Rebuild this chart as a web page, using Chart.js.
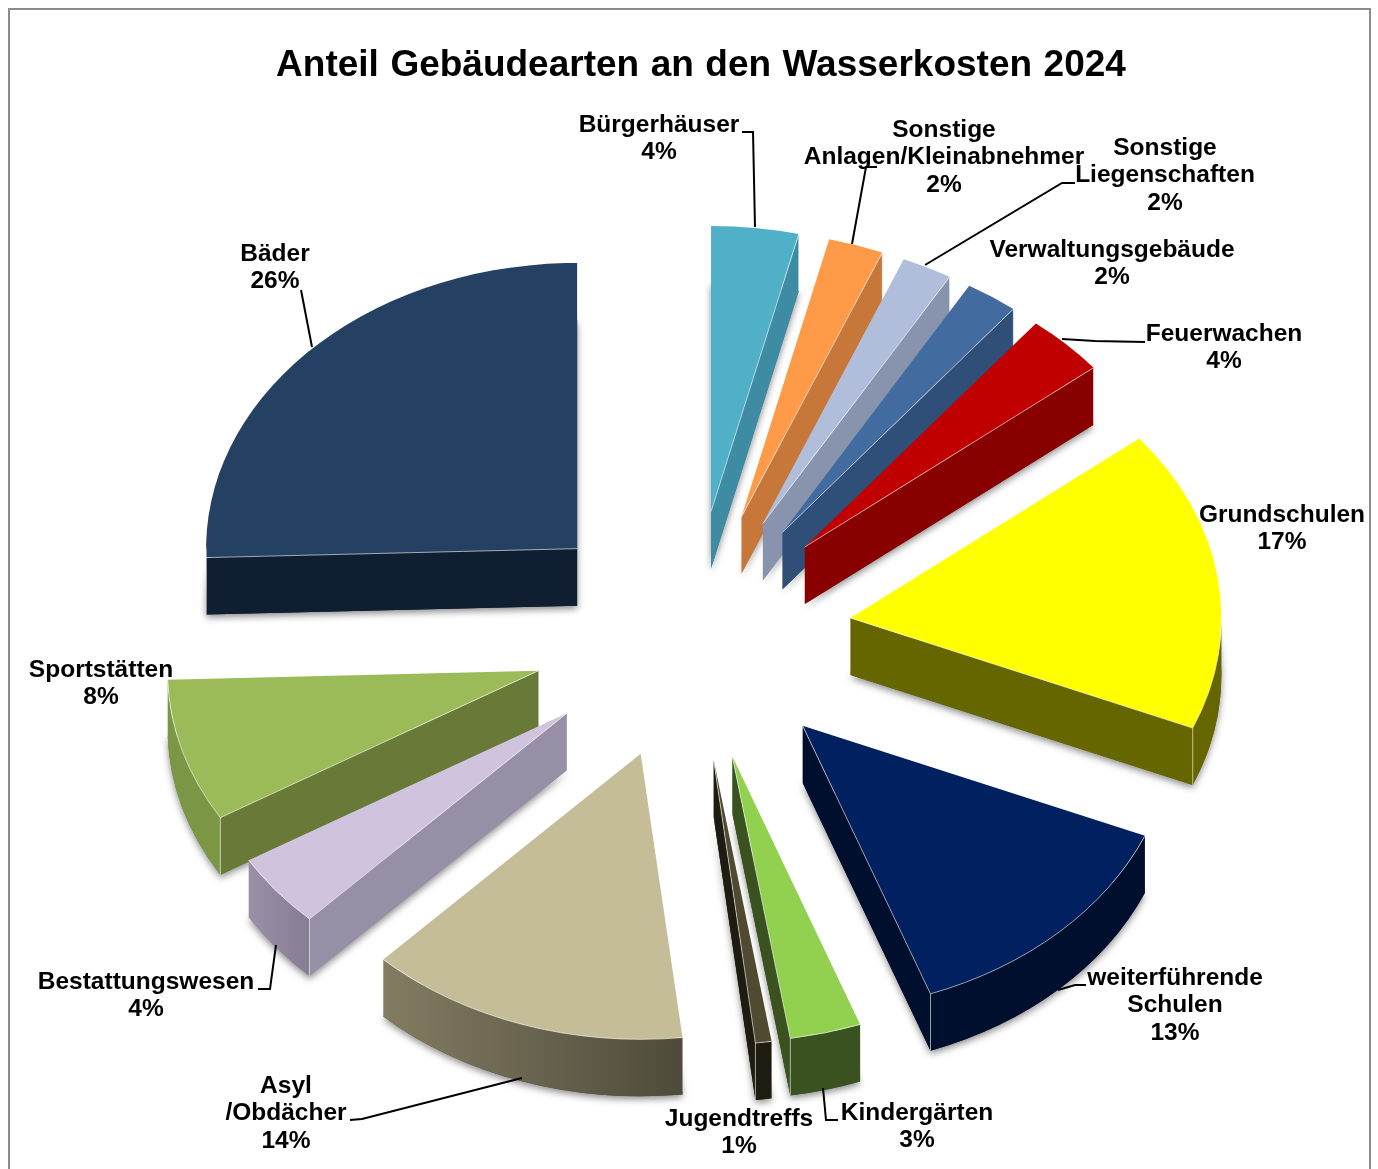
<!DOCTYPE html>
<html lang="de">
<head>
<meta charset="utf-8">
<title>Anteil Gebäudearten an den Wasserkosten 2024</title>
<script src="https://cdn.jsdelivr.net/npm/chart.js@4"></script>
<style>
html,body{margin:0;padding:0;background:#fff;overflow:hidden;width:1378px;height:1169px}
#frame{position:absolute;left:8px;top:8px;width:1363px;height:1300px;border:2.5px solid #8c8c8c;box-sizing:border-box;pointer-events:none}
canvas{position:absolute;left:0;top:0}
</style>
</head>
<body>
<canvas id="c" width="1378" height="1169"></canvas>
<div id="frame"></div>
<script>
const chartTitle = 'Anteil Gebäudearten an den Wasserkosten 2024';
const categories = ['Bürgerhäuser','Sonstige Anlagen/Kleinabnehmer','Sonstige Liegenschaften','Verwaltungsgebäude','Feuerwachen','Grundschulen','weiterführende Schulen','Kindergärten','Jugendtreffs','Asyl /Obdächer','Bestattungswesen','Sportstätten','Bäder'];
// shares; they round to the printed percentages
const shares = [3.8,2.4,2.2,2.3,3.5,17.1,13.1,3.1,0.7,14.0,4.2,8.1,25.5];

const topColors  = ['#4FB0C8','#FF9A48','#B0BEDC','#426BA0','#C00000','#FFFF00','#002060','#92D050','#4F4A30','#C4BD97','#CFC3DD','#9BBB59','#244062'];
const faceColors = ['#3E8CA4','#C8773A','#8894AE','#2F4F78','#880000','#666600','#000F2E','#3A5220','#1E1B10','#4F4B3A','#978FA6','#697A38','#0F1E30'];
const rimLeft    = ['#3E8CA4','#C8773A','#8894AE','#2F4F78','#880000','#666600','#000F2E','#3A5220','#1E1B10','#827C62','#9A91A8','#7B9746','#0F1E30'];
const rimRight   = ['#3E8CA4','#C8773A','#8894AE','#2F4F78','#880000','#666600','#000F2E','#3A5220','#1E1B10','#4F4B3A','#867D92','#7B9746','#0F1E30'];

// label name lines; the percentage line comes from shares
const labelNames = [['Bürgerhäuser'],['Sonstige','Anlagen/Kleinabnehmer'],['Sonstige','Liegenschaften'],['Verwaltungsgebäude'],['Feuerwachen'],['Grundschulen'],['weiterführende','Schulen'],['Kindergärten'],['Jugendtreffs'],['Asyl','/Obdächer'],['Bestattungswesen'],['Sportstätten'],['Bäder']];
const labelX = [659,944,1165,1112,1224,1282,1175,917,739,286,146,101,275];
const labelY = [125,130,148,250,334,515,978,1113,1119,1086,982,670,254];
const leaderLines = [
  [[742,132],[753,132],[755,227]],
  [[877,167],[866,167],[852,244]],
  [[1075,183],[1062,183],[925,265]],
  null,
  [[1145,342],[1095,341],[1062,339]],
  null,
  [[1086,985],[1075,985],[1058,990]],
  [[838,1120],[826,1120],[823,1088]],
  null,
  [[350,1120],[362,1119],[522,1078]],
  [[258,989],[270,989],[276,945]],
  null,
  [[301,290],[312,347]]
];

const EXPLODE = 160, DEPTH = 57, TILT = 0.78, RIM_TILT = 0.77, SHIFT_X = -9, LINE = 27.5;
const TWO_PI = Math.PI * 2;

function drawSlice(ctx, el, i) {
  const a = el.startAngle, b = el.endAngle, r = el.outerRadius;
  const mid = (a + b) / 2;
  const x = el.x + SHIFT_X + Math.cos(mid) * EXPLODE;
  const y = el.y + Math.sin(mid) * EXPLODE * TILT;
  const px = t => x + Math.cos(t) * r;
  const py = t => y + Math.sin(t) * r * RIM_TILT;
  const wedge = (dy) => {
    ctx.beginPath();
    ctx.moveTo(x, y + dy);
    ctx.ellipse(x, y + dy, r, r * RIM_TILT, 0, a, b);
    ctx.closePath();
  };
  const face = (t, color) => {
    ctx.fillStyle = color;
    ctx.beginPath();
    ctx.moveTo(x, y); ctx.lineTo(px(t), py(t));
    ctx.lineTo(px(t), py(t) + DEPTH); ctx.lineTo(x, y + DEPTH);
    ctx.closePath(); ctx.fill();
  };
  // soft shadow under the bottom of the slice
  ctx.save();
  ctx.shadowColor = 'rgba(0,0,0,0.45)'; ctx.shadowBlur = 7; ctx.shadowOffsetY = 3;
  ctx.fillStyle = faceColors[i];
  wedge(DEPTH); ctx.fill();
  ctx.restore();

  const startVisible = Math.cos(a) < 0, endVisible = Math.cos(b) > 0;
  if (startVisible) face(a, faceColors[i]);
  if (endVisible) face(b, faceColors[i]);

  // outer rim: only the part facing the viewer (angles in the lower half)
  const ranges = [[0, Math.PI], [TWO_PI, TWO_PI + Math.PI], [-TWO_PI, -Math.PI]];
  let rimFrom = null, rimTo = null;
  ranges.forEach(([lo, hi]) => {
    const s = Math.max(a, lo), e = Math.min(b, hi);
    if (e > s) {
      rimFrom = s; rimTo = e;
      const g = ctx.createLinearGradient(px(e), 0, px(s) + 0.01, 0);
      g.addColorStop(0, rimLeft[i]); g.addColorStop(1, rimRight[i]);
      ctx.fillStyle = g;
      ctx.beginPath();
      ctx.ellipse(x, y, r, r * RIM_TILT, 0, s, e);
      ctx.ellipse(x, y + DEPTH, r, r * RIM_TILT, 0, e, s, true);
      ctx.closePath(); ctx.fill();
    }
  });

  ctx.fillStyle = topColors[i];
  wedge(0); ctx.fill();

  // thin light highlights on the visible edges
  ctx.strokeStyle = 'rgba(255,255,255,0.6)';
  ctx.lineWidth = 1;
  ctx.beginPath();
  if (startVisible) { ctx.moveTo(x, y); ctx.lineTo(px(a), py(a)); ctx.lineTo(px(a), py(a) + DEPTH); }
  if (endVisible) { ctx.moveTo(x, y); ctx.lineTo(px(b), py(b)); ctx.lineTo(px(b), py(b) + DEPTH); }
  if (rimFrom !== null) { ctx.moveTo(px(rimFrom), py(rimFrom)); ctx.ellipse(x, y, r, r * RIM_TILT, 0, rimFrom, rimTo); }
  ctx.stroke();
}

const pie3d = {
  id: 'pie3d',
  beforeDraw(chart) {
    chart.ctx.wordSpacing = '1.2px';
  },
  beforeDatasetsDraw(chart) {
    const ctx = chart.ctx;
    ctx.wordSpacing = '0px';
    const arcs = chart.getDatasetMeta(0).data;
    const order = arcs.map((el, i) => i).sort((p, q) =>
      Math.sin((arcs[p].startAngle + arcs[p].endAngle) / 2) - Math.sin((arcs[q].startAngle + arcs[q].endAngle) / 2));
    order.forEach(i => drawSlice(ctx, arcs[i], i));
    return false;
  },
  afterDraw(chart) {
    const ctx = chart.ctx;
    ctx.save();
    ctx.font = 'bold 24.5px "Liberation Sans", Arial, sans-serif';
    ctx.fillStyle = '#000';
    ctx.textAlign = 'center';
    ctx.textBaseline = 'middle';
    labelNames.forEach((names, i) => {
      const lines = names.concat(Math.round(shares[i]) + '%');
      lines.forEach((t, k) => ctx.fillText(t, labelX[i], labelY[i] + k * LINE));
    });
    ctx.strokeStyle = '#000';
    ctx.lineWidth = 2;
    leaderLines.forEach(pts => {
      if (!pts) return;
      ctx.beginPath();
      pts.forEach((p, k) => k ? ctx.lineTo(p[0], p[1]) : ctx.moveTo(p[0], p[1]));
      ctx.stroke();
    });
    ctx.restore();
  }
};

new Chart(document.getElementById('c'), {
  type: 'pie',
  plugins: [pie3d],
  data: {
    labels: categories,
    datasets: [{ data: shares, backgroundColor: topColors, borderWidth: 0 }]
  },
  options: {
    responsive: false,
    animation: false,
    radius: 371,
    layout: { padding: { left: 24, right: 0, top: 44, bottom: 0 } },
    plugins: {
      legend: { display: false },
      tooltip: { enabled: false },
      title: {
        display: true,
        text: chartTitle,
        color: '#000',
        font: { family: '"Liberation Sans", Arial, sans-serif', size: 37, weight: 'bold' },
        padding: { top: 0, bottom: 13.6 }
      }
    }
  }
});
</script>
</body>
</html>
